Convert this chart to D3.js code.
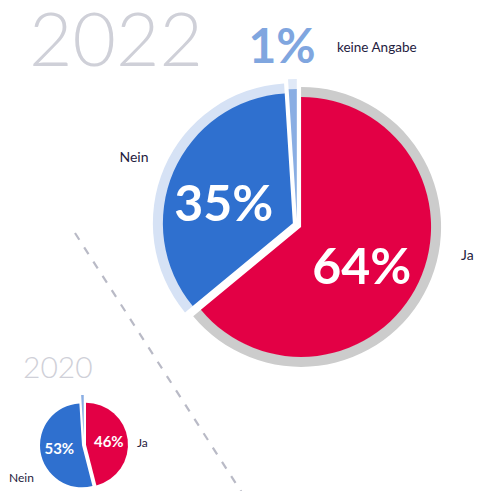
<!DOCTYPE html>
<html>
<head>
<meta charset="utf-8">
<script src="https://cdn.jsdelivr.net/npm/d3@7"></script>
<style>
  body { margin: 0; background: #fff; }
  svg { display: block; font-family: Lato, "Open Sans", sans-serif; }
</style>
</head>
<body>
<svg id="chart" width="484" height="491"></svg>
<script>
// data
var categories = ["Ja", "Nein", "keine Angabe"];
var values2022 = [64, 35, 1];
var values2020 = [46, 53, 1];
var years = ["2022", "2020"];

var fillColors = ["#e30045", "#2f70cf", "#8aaee3"];
var ringColors = ["#cccccc", "#d6e2f5", "#e0e9f7"];
var darkText = "#1f2140";

var svg = d3.select("#chart");

// dashed divider
svg.append("line")
  .attr("x1", 75).attr("y1", 233)
  .attr("x2", 242).attr("y2", 493)
  .attr("stroke", "#b9bac6")
  .attr("stroke-width", 2.2)
  .attr("stroke-dasharray", "8 9");

var pie = d3.pie().sort(null).value(d => d);

function polar(a, r) {
  return [Math.sin(a) * r, -Math.cos(a) * r];
}

function drawPie(values, opt) {
  var g = svg.append("g")
    .attr("transform", "translate(" + opt.cx + "," + opt.cy + ")");

  var arcs = pie(values);
  var fillArc = d3.arc().innerRadius(0).outerRadius(opt.r);
  var ringArc = d3.arc().innerRadius(opt.r - 0.5).outerRadius(opt.r + opt.ring);

  var slice = g.selectAll("g.slice")
    .data(arcs)
    .enter().append("g")
      .attr("class", "slice")
      .attr("transform", function(d, i) {
        var mid = (d.startAngle + d.endAngle) / 2;
        var p = polar(mid, opt.explode[i]);
        return "translate(" + p[0] + "," + p[1] + ")";
      });

  if (opt.ring > 0) {
    slice.append("path")
      .attr("d", ringArc)
      .attr("fill", (d, i) => ringColors[i]);
  }

  slice.append("path")
    .attr("d", fillArc)
    .attr("fill", (d, i) => fillColors[i]);

  // percentages inside the two big slices
  slice.filter((d, i) => i < 2).append("text")
    .attr("transform", function(d) {
      var mid = (d.startAngle + d.endAngle) / 2;
      var a = mid + opt.labelTurn * (mid < Math.PI ? 1 : -1);
      var p = polar(a, opt.labelR);
      return "translate(" + p[0] + "," + p[1] + ")";
    })
    .attr("text-anchor", "middle")
    .attr("dy", "0.36em")
    .attr("fill", "#fff")
    .attr("font-size", opt.pctSize)
    .attr("font-weight", 700)
    .text(d => d.data + "%");

  return g;
}

// 2022
drawPie(values2022, {
  cx: 297, cy: 225, r: 130, ring: 10,
  explode: [4.5, 4.5, 6],
  labelR: 72, labelTurn: 0.13, pctSize: 50
});

svg.append("text")
  .attr("x", 29).attr("y", 66)
  .attr("fill", "#cfd0d8")
  .attr("font-size", 75)
  .attr("font-weight", 300)
  .text(years[0]);

svg.append("text")
  .attr("x", 282).attr("y", 63)
  .attr("text-anchor", "middle")
  .attr("fill", "#80a6df")
  .attr("font-size", 48)
  .attr("font-weight", 700)
  .text(values2022[2] + "%");

svg.append("text")
  .attr("x", 337).attr("y", 52)
  .attr("fill", darkText)
  .attr("font-size", 13.5)
  .text(categories[2]);

svg.append("text")
  .attr("x", 134).attr("y", 162)
  .attr("text-anchor", "middle")
  .attr("fill", darkText)
  .attr("font-size", 14)
  .text(categories[1]);

svg.append("text")
  .attr("x", 461).attr("y", 260)
  .attr("fill", darkText)
  .attr("font-size", 14)
  .text(categories[0]);

// 2020
drawPie(values2020, {
  cx: 84, cy: 445, r: 42, ring: 0,
  explode: [2, 2, 8],
  labelR: 23, labelTurn: 0, pctSize: 15
});

svg.append("text")
  .attr("x", 23).attr("y", 378)
  .attr("fill", "#cfd0d8")
  .attr("font-size", 30)
  .attr("font-weight", 300)
  .text(years[1]);

svg.append("text")
  .attr("x", 137).attr("y", 447)
  .attr("fill", darkText)
  .attr("font-size", 12)
  .text(categories[0]);

svg.append("text")
  .attr("x", 9).attr("y", 482)
  .attr("fill", darkText)
  .attr("font-size", 12)
  .text(categories[1]);
</script>
</body>
</html>
